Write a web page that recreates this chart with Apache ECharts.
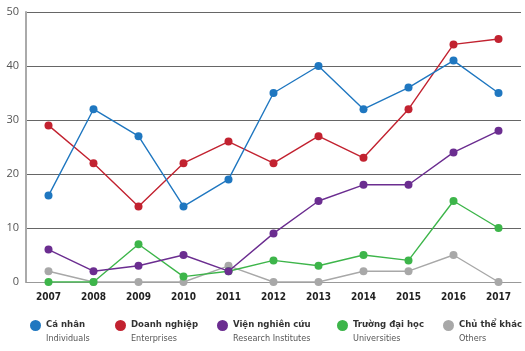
<!DOCTYPE html>
<html>
<head>
<meta charset="utf-8">
<script src="https://cdn.jsdelivr.net/npm/echarts@6/dist/echarts.min.js"></script>
<style>
  html, body { margin: 0; padding: 0; background: #fff; }
  #chart { width: 525px; height: 351px; }
</style>
</head>
<body>
<div id="chart"></div>
<script>
const years = ['2007', '2008', '2009', '2010', '2011', '2012', '2013', '2014', '2015', '2016', '2017']

const individuals = [16, 32, 27, 14, 19, 35, 40, 32, 36, 41, 35]
const enterprises = [29, 22, 14, 22, 26, 22, 27, 23, 32, 44, 45]
const institutes = [6, 2, 3, 5, 2, 9, 15, 18, 18, 24, 28]
const universities = [0, 0, 7, 1, 2, 4, 3, 5, 4, 15, 10]
const others = [2, 0, 0, 0, 3, 0, 0, 2, 2, 5, 0]

const names = ['Cá nhân', 'Doanh nghiệp', 'Viện nghiên cứu', 'Trường đại học', 'Chủ thể khác']
const subNames = ['Individuals', 'Enterprises', 'Research Institutes', 'Universities', 'Others']
const colors = ['#1f77c0', '#c22230', '#6b2d90', '#3db54a', '#a8a8a8']
const legendLeft = [30, 115, 217, 337, 443]

const FONT = '"DejaVu Sans Condensed", "Liberation Sans Narrow", sans-serif'

const chart = echarts.init(document.getElementById('chart'))

function makeSeries(i, data) {
  return {
    name: names[i],
    type: 'line',
    data,
    symbol: 'circle',
    symbolSize: 8,
    z: 10 - i,
    lineStyle: { width: 1.4, color: colors[i] },
    itemStyle: { color: colors[i] }
  }
}

chart.setOption({
  backgroundColor: '#fff',
  animation: false,
  textStyle: { fontFamily: FONT },
  grid: { left: 26, right: 4, top: 12, bottom: 69 },
  legend: names.map((n, i) => ({
    data: [n],
    left: legendLeft[i],
    top: 320,
    padding: 0,
    icon: 'circle',
    itemWidth: 11,
    itemHeight: 11,
    itemGap: 0,
    formatter: name => '{a|' + name + '}\n{b|' + subNames[i] + '}',
    textStyle: {
      fontFamily: FONT,
      padding: [12, 0, 0, 0],
      rich: {
        a: { fontFamily: FONT, fontSize: 9.5, fontWeight: 'bold', color: '#333', lineHeight: 15 },
        b: { fontFamily: FONT, fontSize: 9, color: '#555', lineHeight: 13 }
      }
    }
  })),
  xAxis: {
    type: 'category',
    data: years,
    boundaryGap: true,
    axisLine: { lineStyle: { color: '#999', width: 1 } },
    axisTick: { show: false },
    axisLabel: { color: '#222', fontSize: 10, fontWeight: 'bold', margin: 10, fontFamily: FONT }
  },
  yAxis: {
    type: 'value',
    min: 0,
    max: 50,
    interval: 10,
    axisLine: { show: true, lineStyle: { color: '#aaa', width: 2 } },
    axisTick: { show: false },
    axisLabel: { color: '#555', fontSize: 11, margin: 7, fontFamily: '"Open Sans", sans-serif' },
    splitLine: { lineStyle: { color: '#666', width: 1 } }
  },
  series: [
    makeSeries(0, individuals),
    makeSeries(1, enterprises),
    makeSeries(2, institutes),
    makeSeries(3, universities),
    makeSeries(4, others)
  ]
})
</script>
</body>
</html>
